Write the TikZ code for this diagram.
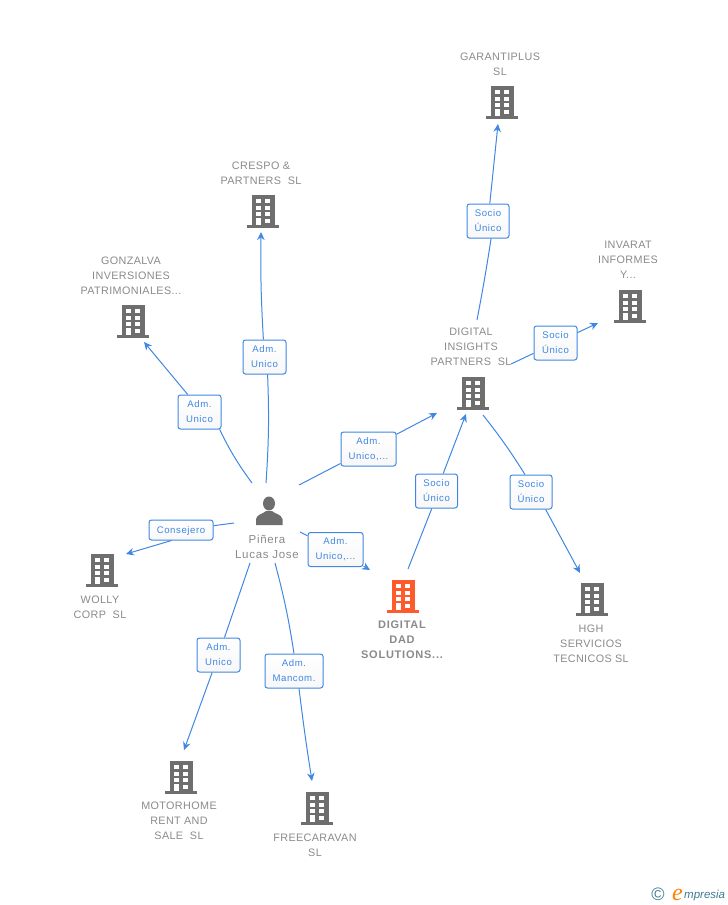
\documentclass[tikz,border=0pt]{standalone}
\usepackage{fontspec}
\setmainfont{Liberation Sans}
\newfontfamily\logofont{Liberation Serif}
\usetikzlibrary{arrows.meta}
\definecolor{linkblue}{HTML}{3F87E3}
\definecolor{txtgray}{HTML}{8A8A8A}
\definecolor{icongray}{HTML}{6E6E6E}
\definecolor{iconorange}{HTML}{FF5A2B}
\definecolor{logoteal}{HTML}{3F7A90}
\tikzset{
  societe/.style={text=txtgray,font=\fontsize{10.8}{15}\selectfont\addfontfeature{LetterSpace=3.5},align=center,inner sep=0pt},
  role/.style={draw=linkblue,top color=white,bottom color=black!3,text=linkblue,rounded corners=2.5pt,line width=1pt,
    font=\fontsize{9.6}{15}\selectfont\addfontfeature{LetterSpace=6},align=center,minimum height=34pt,inner sep=0pt,
    execute at begin node={\rule{0pt}{9pt}}},
  link/.style={draw=linkblue,line width=1pt},
  fleche/.style={link,-{Stealth[length=8pt,width=7.5pt]}},
  pics/immeuble/.style={code={
    \fill[#1] (-11.5,-33) rectangle (11.5,-2);
    \fill[#1] (-16,-3) rectangle (16,0);
    \foreach \c in {-4.7,4.7}
      \foreach \r in {-27,-20.5,-14}
        \fill[white] (\c-2.3,\r-2) rectangle (\c+2.3,\r+2);
    \fill[white] (4.7-2.3,-9.5) rectangle (4.7+2.3,-5.5);
    \fill[white] (-4.7-2.3,-10) rectangle (-4.7+2.3,-3);
  }},
}
\begin{document}
\begin{tikzpicture}[x=1pt,y=-1pt]
  \useasboundingbox (0,0) rectangle (728,905);
  % batiments
  \pic at (502,119) {immeuble=icongray};
  \pic at (263,228) {immeuble=icongray};
  \pic at (630,323) {immeuble=icongray};
  \pic at (133,338) {immeuble=icongray};
  \pic at (473,410) {immeuble=icongray};
  \pic at (102,587) {immeuble=icongray};
  \pic at (403,613) {immeuble=iconorange};
  \pic at (592,616) {immeuble=icongray};
  \pic at (181,794) {immeuble=icongray};
  \pic at (317,825) {immeuble=icongray};
  % personne
  \fill[icongray] (269,503.5) ellipse (6pt and 7pt);
  \fill[icongray] (256,525) -- (256,519) .. controls (257,514) and (263,514) .. (266,511)
    -- (272,511) .. controls (275,514) and (281,514) .. (282.5,519) -- (282.5,525) -- cycle;
  % noms
  \node[societe] (garantiplus) at (500,64.5) {GARANTIPLUS\\SL};
  \node[societe] (crespo) at (261,173) {CRESPO \&\\PARTNERS~~SL};
  \node[societe] (invarat) at (628,260) {INVARAT\\INFORMES\\Y...};
  \node[societe] (gonzalva) at (131,276) {GONZALVA\\INVERSIONES\\PATRIMONIALES...};
  \node[societe] (insights) at (471,347) {DIGITAL\\INSIGHTS\\PARTNERS~~SL};
  \node[societe] (wolly) at (100,607) {WOLLY\\CORP~~SL};
  \node[societe,font=\fontsize{11}{15}\selectfont\bfseries\addfontfeature{LetterSpace=7}] (dad) at (402,640) {DIGITAL\\DAD\\SOLUTIONS...};
  \node[societe] (hgh) at (591,644) {HGH\\SERVICIOS\\TECNICOS SL};
  \node[societe] (motorhome) at (179,821) {MOTORHOME\\RENT AND\\SALE~~SL};
  \node[societe] (freecaravan) at (315,845.5) {FREECARAVAN\\SL};
  \node[societe,font=\fontsize{11.5}{15}\selectfont\addfontfeature{LetterSpace=6}] (pinera) at (267,547) {Piñera\\Lucas Jose};
  % roles
  \node[role,minimum width=43pt] (r1) at (199.5,412) {Adm.\\Unico};
  \node[role,minimum width=43pt] (r2) at (264.5,357) {Adm.\\Unico};
  \node[role,minimum width=55pt] (r3) at (368.5,449) {Adm.\\Unico,...};
  \node[role,minimum width=55pt] (r4) at (335.5,549.5) {Adm.\\Unico,...};
  \node[role,minimum width=64pt,minimum height=20pt] (r5) at (181,530) {Consejero};
  \node[role,minimum width=43pt] (r6) at (218.5,655) {Adm.\\Unico};
  \node[role,minimum width=58pt] (r7) at (294,671) {Adm.\\Mancom.};
  \node[role,minimum width=42pt] (r8) at (436.5,491) {Socio\\Único};
  \node[role,minimum width=42pt] (r9) at (531,492) {Socio\\Único};
  \node[role,minimum width=42pt] (r10) at (488,221) {Socio\\Único};
  \node[role,minimum width=43pt] (r11) at (555.5,343) {Socio\\Único};
  % extremites
  \coordinate (p1) at (252,483);
  \coordinate (p2) at (266,483);
  \coordinate (p3) at (299,485);
  \coordinate (p4) at (300,532);
  \coordinate (p5) at (234,523);
  \coordinate (p6) at (250,563);
  \coordinate (p7) at (275,563);
  \coordinate (dadtop) at (408,569);
  \coordinate (instop) at (477,320);
  \coordinate (insbas) at (483,415);
  \coordinate (insdroite) at (511,364);
  \coordinate (a1) at (144,342);
  \coordinate (a2) at (261,232);
  \coordinate (a3) at (437,413);
  \coordinate (a4) at (370,570);
  \coordinate (a5) at (126,554);
  \coordinate (a6) at (184,750);
  \coordinate (a7) at (312,781);
  \coordinate (a8) at (466,414);
  \coordinate (a9) at (580,573);
  \coordinate (a10) at (498,124);
  \coordinate (a11) at (598,323);
  % liens
  \draw[link] (p1) to[bend left=5] (r1.-41);   \draw[fleche] (r1.124) -- (a1);
  \draw[link] (p2) to[bend right=3] (r2.-80);  \draw[fleche] (r2) to[bend left=2] (a2);
  \draw[link] (p3) -- (r3);                \draw[fleche] (r3) -- (a3);
  \draw[link] (p4) -- (r4);                \draw[fleche] (r4) -- (a4);
  \draw[link] (p5) -- (r5);                \draw[fleche] (r5.-132) -- (a5);
  \draw[link] (p6) -- (r6);                \draw[fleche] (r6) -- (a6);
  \draw[link] (p7) to[bend left=3] (r7.north);   \draw[fleche] (r7.-74) to[bend right=1] (a7);
  \draw[link] (dadtop) -- (r8.-105);       \draw[fleche] (r8) -- (a8);
  \draw[link] (insbas) to[bend left=3] (r9.109); \draw[fleche] (r9.-50) -- (a9);
  \draw[link] (instop) to[bend right=1] (r10.-80); \draw[fleche] (r10) -- (a10);
  \draw[link] (insdroite) -- (r11);        \draw[fleche] (r11) -- (a11);
  % logo
  \node[inner sep=0pt,text=logoteal,font=\fontsize{18}{18}\selectfont] (copyr) at (658,894) {©};
  \node[inner sep=0pt,anchor=base west,text=orange,font=\fontsize{24}{24}\logofont\itshape] (elogo) at (672,900) {e};
  \node[inner sep=0pt,anchor=base west,text=logoteal,font=\fontsize{11.5}{12}\selectfont\itshape] (mpresia) at (684,898) {mpresia};
\end{tikzpicture}
\end{document}
